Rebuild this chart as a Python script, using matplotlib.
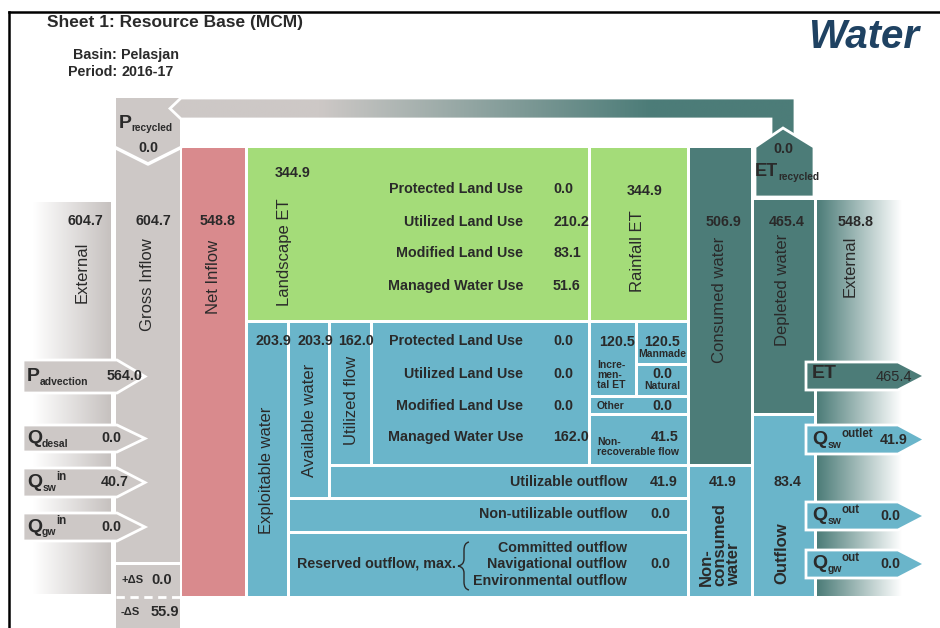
import numpy as np
import matplotlib
matplotlib.use('Agg')
import matplotlib.pyplot as plt
import matplotlib.colors as mcolors
from matplotlib.patches import Rectangle, Polygon, PathPatch
from matplotlib.path import Path

plt.rcParams['font.family'] = ['Liberation Sans', 'DejaVu Sans']

# ---- values (MCM) ----
title = 'Sheet 1: Resource Base (MCM)'
basin = 'Pelasjan'
period = '2016-17'

land_uses = ['Protected Land Use', 'Utilized Land Use', 'Modified Land Use', 'Managed Water Use']
landscape_et = [0.0, 210.2, 83.1, 51.6]
utilized_by_use = [0.0, 0.0, 0.0, 162.0]

inflow_syms = [('P', 'advection', ''), ('Q', 'desal', ''), ('Q', 'sw', 'in'), ('Q', 'gw', 'in')]
inflow_values = [564.0, 0.0, 40.7, 0.0]
outflow_syms = [('ET', '', ''), ('Q', 'sw', 'outlet'), ('Q', 'sw', 'out'), ('Q', 'gw', 'out')]
outflow_values = [465.4, 41.9, 0.0, 0.0]

column_names = ['External', 'Gross Inflow', 'Net Inflow', 'Landscape ET', 'Rainfall ET',
                'Consumed water', 'Depleted water', 'External']
column_values = [604.7, 604.7, 548.8, 344.9, 344.9, 506.9, 465.4, 548.8]

blue_names = ['Exploitable water', 'Available water', 'Utilized flow']
blue_values = [203.9, 203.9, 162.0]

incremental_et = [120.5, 120.5, 0.0]   # total, manmade, natural
other_et = 0.0
non_recoverable = 41.5
outflow_rows = ['Utilizable outflow', 'Non-utilizable outflow']
outflow_row_values = [41.9, 0.0]
reserved_parts = ['Committed outflow', 'Navigational outflow', 'Environmental outflow']
reserved_value = 0.0
non_consumed = 41.9
outflow_total = 83.4
p_recycled = 0.0
et_recycled = 0.0
delta_s = [0.0, 55.9]   # +dS, -dS

# ---- colours ----
GRAY = '#cdc8c6'
RED = '#d98a8d'
GREEN = '#a4dc79'
BLUE = '#6ab5ca'
TEAL = '#4c7c78'
TXT = '#2a2a2a'

fig = plt.figure(figsize=(9.4, 6.28), dpi=100)
ax = fig.add_axes([0, 0, 1, 1])


def rect(x0, y0, x1, y1, fc, z=2):
    p = Rectangle((x0, y0), x1 - x0, y1 - y0, fc=fc, ec='none', zorder=z)
    ax.add_patch(p)
    return p


def poly(pts, fc, z=3, lw=2):
    p = Polygon(pts, closed=True, fc=fc, ec='white', lw=lw, zorder=z)
    ax.add_patch(p)
    return p


def grad(pts, x0, x1, y0, y1, stops, z=1, lw=0):
    p = Polygon(pts, closed=True, fc='none', ec='white' if lw else 'none', lw=lw, zorder=z + 0.1)
    ax.add_patch(p)
    xs = np.linspace(0, 1, 300)
    pos = [s[0] for s in stops]
    cols = np.array([mcolors.to_rgb(s[1]) for s in stops])
    img = np.stack([np.interp(xs, pos, cols[:, k]) for k in range(3)], axis=-1)[None, :, :]
    im = ax.imshow(img, extent=(x0, x1, y1, y0), aspect='auto', zorder=z, interpolation='bilinear')
    im.set_clip_path(p)
    return p


def txt(x, y, s, size=10.3, weight='bold', ha='center', va='center', **kw):
    return ax.text(x, y, s, fontsize=size, weight=weight, ha=ha, va=va, color=TXT, zorder=6, **kw)


def vlab(x, y, s, size=12, **kw):
    return ax.text(x, y, s, fontsize=size, rotation=90, ha='center', va='center',
                   color=TXT, zorder=6, **kw)


def sym(x, y, main, sub='', sup='', size=14, small=7.5):
    t = ax.text(x, y, main, fontsize=size, weight='bold', ha='left', va='center', color=TXT, zorder=6)
    ref = t
    if sub:
        ref = ax.annotate(sub, xy=(1, 0.18), xycoords=t, fontsize=small, weight='bold',
                          ha='left', va='center', color=TXT, zorder=6)
    if sup:
        ax.annotate(sup, xy=(1, 0.85), xycoords=(ref, t), fontsize=small + 0.8, weight='bold',
                    ha='left', va='center', color=TXT, zorder=6)
    return t


def f(v):
    return f'{v:.1f}'


# ---- frame, title, logo ----
ax.plot([9, 9], [12, 628], color='black', lw=1.8, zorder=7)
ax.plot([9, 940], [12, 12], color='black', lw=1.8, zorder=7)
txt(175, 22, title, size=12.5)
txt(117, 55, 'Basin:', ha='right')
txt(121, 55, basin, ha='left')
txt(117, 72, 'Period:', ha='right')
txt(121, 72, period, ha='left')
ax.text(864, 37, 'Water', fontsize=29, weight='bold', style='italic', color='#1f4262',
        ha='center', va='center', zorder=6)

# ---- left side: external + gross inflow ----
grad([(33, 202), (111, 202), (111, 594), (33, 594)], 33, 111, 202, 594,
     [(0, '#ffffff'), (1, '#c6c1bf')], z=1)
rect(116, 98, 180, 562, GRAY, z=2)
rect(116, 565, 180, 628, GRAY, z=2)
ax.plot([116, 180], [597, 597], color='white', lw=2, ls=(0, (3, 2)), zorder=3)
ax.plot([116, 148, 180], [148, 164, 148], color='white', lw=2.5, zorder=3)

# recycle arrow across the top
grad([(170, 108.5), (181, 98), (795, 98), (795, 140), (771, 140), (771, 119), (181, 119)],
     170, 795, 98, 140, [(0, GRAY), (0.24, GRAY), (0.77, TEAL), (1, TEAL)], z=2.5, lw=2)
poly([(755, 197), (755, 147), (783, 128), (814, 147), (814, 197)], TEAL, z=3)

# ---- main columns ----
rect(182, 148, 245, 596, RED)
rect(248, 148, 588, 320, GREEN)
rect(591, 148, 687, 320, GREEN)
rect(690, 148, 751, 464, TEAL)
rect(690, 467, 751, 596, BLUE)
rect(754, 200, 814, 413, TEAL)
rect(754, 416, 814, 596, BLUE)
grad([(817, 200), (902, 200), (902, 596), (817, 596)], 817, 902, 200, 596,
     [(0, TEAL), (1, '#ffffff')], z=1)

# blue blocks
rect(248, 323, 287, 596, BLUE)
rect(290, 323, 328, 497, BLUE)
rect(331, 323, 370, 464, BLUE)
rect(373, 323, 588, 464, BLUE)
rect(591, 323, 635, 395, BLUE)
rect(638, 323, 687, 363, BLUE)
rect(638, 366, 687, 395, BLUE)
rect(591, 398, 687, 413, BLUE)
rect(591, 416, 687, 464, BLUE)
rect(331, 467, 687, 497, BLUE)
rect(290, 500, 687, 531, BLUE)
rect(290, 534, 687, 596, BLUE)

# ---- inflow arrows (left) ----
in_rows = [(360, 393), (425, 452), (468, 497), (513, 541)]
for (y0, y1), (m, sb, sp), v in zip(in_rows, inflow_syms, inflow_values):
    ym = (y0 + y1) / 2
    poly([(23, y0), (117, y0), (145, ym), (117, y1), (23, y1)], GRAY, z=3)
    sym(27, ym, m, sb, sp)
    txt(107 if v >= 100 else 101, ym, f(v), ha='left')

# ---- outflow arrows (right) ----
out_rows = [(362, 390), (425, 454), (502, 530), (550, 578)]
out_cols = [TEAL, BLUE, BLUE, BLUE]
for (y0, y1), (m, sb, sp), v, c in zip(out_rows, outflow_syms, outflow_values, out_cols):
    ym = (y0 + y1) / 2
    poly([(806, y0), (898, y0), (925, ym), (898, y1), (806, y1)], c, z=3)
    sym(812, ym - (2 if m == 'ET' else 0), m, sb, sp)
    if m == 'ET':
        txt(912, ym + 1, f(v), ha='right', weight='normal', size=10.5)
    else:
        txt(880, ym, f(v), ha='left')

# ---- column texts ----
num_x = [85, 153, 218, 293, 645, 723, 787, 856]
num_y = [221, 221, 221, 173, 191, 222, 222, 222]
lab_x = [82, 147, 213, 285, 638, 720, 782, 850]
lab_y = [272, 285, 277, 252, 251, 300, 290, 266]
for nx, ny, lx, ly, name, v in zip(num_x, num_y, lab_x, lab_y, column_names, column_values):
    txt(nx, ny, f(v))
    vlab(lx, ly, name)

# recycled
sym(119, 123, 'P', 'recycled', '', size=14, small=7.3)
txt(148, 148, f(p_recycled))
txt(783, 149, f(et_recycled))
sym(755, 172, 'ET', 'recycled', '', size=13, small=7.3)

# land use rows
green_y = [189, 222, 253, 286]
blue_y = [341, 374, 406, 437]
for name, g, b, gy, by in zip(land_uses, landscape_et, utilized_by_use, green_y, blue_y):
    txt(523, gy, name, ha='right')
    txt(553, gy, f(g), ha='left')
    txt(523, by, name, ha='right')
    txt(553, by, f(b), ha='left')

# exploitable / available / utilized
for x0, v in zip([255, 297, 338], blue_values):
    txt(x0, 341, f(v), ha='left')
for x, y, name in zip([267, 309, 351], [470, 420, 400], blue_names):
    vlab(x, y, name)

# incremental ET block
txt(617, 342, f(incremental_et[0]))
txt(597, 375, 'Incre-\nmen-\ntal ET', size=7.5, ha='left', linespacing=0.95)
txt(662, 342, f(incremental_et[1]))
txt(662, 354, 'Manmade', size=7.5)
txt(662, 374, f(incremental_et[2]))
txt(662, 386, 'Natural', size=7.5)
txt(597, 406, 'Other', size=7.5, ha='left')
txt(662, 406, f(other_et))
txt(665, 437, f(non_recoverable))
txt(597, 442, 'Non-', size=7.5, ha='left')
txt(597, 452, 'recoverable flow', size=7.5, ha='left')

# outflow rows
for y, name, v in zip([482, 514], outflow_rows, outflow_row_values):
    txt(627, y, name, ha='right')
    txt(650, y, f(v), ha='left')
txt(456, 564, 'Reserved outflow, max.', ha='right')
for y, name in zip([548, 564, 581], reserved_parts):
    txt(627, y, name, ha='right')
txt(650, 564, f(reserved_value), ha='left')
brace = Path([(469, 542), (464, 543), (464, 550), (464, 559), (464, 565), (458, 566),
              (464, 567), (464, 573), (464, 582), (464, 589), (469, 590)],
             [Path.MOVETO, Path.CURVE3, Path.CURVE3, Path.LINETO, Path.CURVE3, Path.CURVE3,
              Path.CURVE3, Path.CURVE3, Path.LINETO, Path.CURVE3, Path.CURVE3])
ax.add_patch(PathPatch(brace, fc='none', ec=TXT, lw=1, zorder=6))

# non-consumed / outflow
txt(723, 482, f(non_consumed))
vlab(720, 545, 'Non-\nconsumed\nwater', size=12, weight='bold', multialignment='left', linespacing=0.85)
txt(787, 482, f(outflow_total))
vlab(782, 553, 'Outflow', weight='bold')

# storage change
txt(121, 580, '+ΔS', size=8, ha='left')
txt(151, 580, f(delta_s[0]), size=10.5, ha='left')
txt(121, 612, '-ΔS', size=8, ha='left')
txt(151, 612, f(delta_s[1]), size=10.5, ha='left')

ax.set_xlim(0, 940)
ax.set_ylim(628, 0)
ax.axis('off')
fig.savefig('out.png', dpi=100, facecolor='white')
